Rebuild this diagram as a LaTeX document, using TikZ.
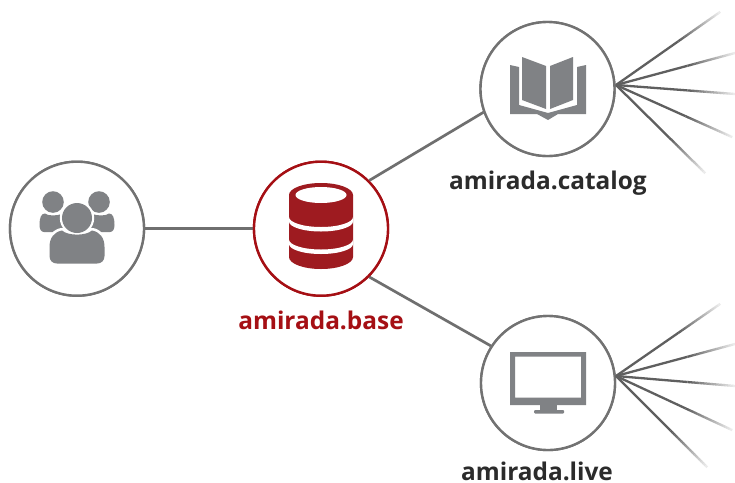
\documentclass[tikz,border=0pt]{standalone}
\usepackage{fontspec}
\setmainfont{Open Sans}
\usetikzlibrary{calc}
\definecolor{ringgray}{HTML}{727272}
\definecolor{icongray}{HTML}{808285}
\definecolor{linegray}{HTML}{6F6F6F}
\definecolor{fangray}{HTML}{5F5F5F}
\definecolor{dbred}{HTML}{9E1B20}
\definecolor{ringred}{HTML}{A50F14}
\definecolor{labeldark}{HTML}{2B2B2B}
\tikzset{
  hub/.style={circle,draw=ringgray,line width=2.4pt,fill=white,minimum size=134pt,inner sep=0pt},
  hubred/.style={hub,draw=ringred},
  link/.style={draw=linegray,line width=2.7pt},
  lbl/.style={font=\bfseries\fontsize{24.4}{28}\selectfont,text=labeldark,anchor=base,inner sep=0pt},
  icon/.style={fill=icongray,draw=none},
  dbpart/.style={fill=dbred,draw=none},
  gap/.style={fill=white,draw=none},
}
% fading spoke from a hub coordinate to a free end
\newcommand{\spoke}[2]{%
  \draw[draw=fangray,line width=2.3pt] (#1) -- ($(#1)!0.6!(#2)$);
  \foreach \k in {0,...,19}{%
    \pgfmathsetmacro{\ta}{0.6+0.02*\k}
    \pgfmathsetmacro{\tb}{0.6+0.02*(\k+1)+0.002}
    \pgfmathsetmacro{\pc}{100-4.6*\k}
    \draw[draw=fangray!\pc!white,line width=2.3pt] ($(#1)!\ta!(#2)$) -- ($(#1)!\tb!(#2)$);
  }}
\begin{document}
\begin{tikzpicture}[x=1pt,y=-1pt]
\useasboundingbox (0,0) rectangle (735,482);
\fill[white] (0,0) rectangle (735,482);

\node[hub] (users) at (77,228.7) {};
\node[hubred] (base) at (321,228.7) {};
\node[hub] (catalog) at (547.5,89) {};
\node[hub] (live) at (548,383) {};

\draw[link] (users) -- (base);
\draw[link] (base.45) -- (catalog.200);
\draw[link] (base.-45) -- (live.147);
\node[hubred,fill=white] at (base) {};
\node[hub] at (users) {};
\node[hub] at (catalog) {};
\node[hub] at (live) {};

% fan from catalog
\coordinate (ch) at (616,85);
\coordinate (c1) at (720,12);
\coordinate (c2) at (735,53);
\coordinate (c3) at (735,94);
\coordinate (c4) at (732,137);
\coordinate (c5) at (705,173);
\spoke{ch}{c1}\spoke{ch}{c2}\spoke{ch}{c3}\spoke{ch}{c4}\spoke{ch}{c5}

% fan from live
\coordinate (lh) at (616,376);
\coordinate (l1) at (720,304);
\coordinate (l2) at (735,344);
\coordinate (l3) at (735,386);
\coordinate (l4) at (732,430);
\coordinate (l5) at (707,467);
\spoke{lh}{l1}\spoke{lh}{l2}\spoke{lh}{l3}\spoke{lh}{l4}\spoke{lh}{l5}

% users icon
\fill[icon] (53,202) circle (10.8);
\fill[icon] (99,202) circle (10.8);
\fill[icon] (39.5,225) .. controls (39.5,218) and (41,213.5) .. (45,213.5)
   .. controls (48,216) and (56,216) .. (62,214) -- (64,232) -- (44,232)
   .. controls (41,232) and (39.5,229) .. (39.5,225) -- cycle;
\fill[icon] (114.5,225) .. controls (114.5,218) and (113,213.5) .. (109,213.5)
   .. controls (106,216) and (98,216) .. (92,214) -- (90,232) -- (110,232)
   .. controls (113,232) and (114.5,229) .. (114.5,225) -- cycle;
\fill[white] (77,218) circle (17.2);
\fill[white] (49,263) -- (47,246) .. controls (47,236) and (54,229) .. (61,228) -- (93,228)
   .. controls (100,229) and (107,236) .. (106,246) -- (105,263) -- cycle;
\fill[icon] (77,218) circle (15);
\fill[icon] (49.5,256) -- (49.5,247) .. controls (49.5,238) and (54,232) .. (62,230.5)
   .. controls (68,236) and (86,236) .. (92,230.5)
   .. controls (100,232) and (104.5,238) .. (104.5,247) -- (104.5,256)
   .. controls (104.5,261) and (101,263.5) .. (97,263.5) -- (57,263.5)
   .. controls (53,263.5) and (49.5,261) .. (49.5,256) -- cycle;

% database icon
\fill[dbpart] (289,195) -- (353,195) -- (353,257) arc[start angle=0,end angle=180,x radius=32,y radius=12] -- cycle;
\fill[dbpart] (321,195) ellipse[x radius=32,y radius=12];
\fill[gap] (321,195) ellipse[x radius=25.5,y radius=8];
\fill[gap] (289,217) arc[start angle=180,end angle=0,x radius=32,y radius=10]
   -- (353,221.5) arc[start angle=0,end angle=180,x radius=32,y radius=10] -- cycle;
\fill[gap] (289,239.5) arc[start angle=180,end angle=0,x radius=32,y radius=10]
   -- (353,244) arc[start angle=0,end angle=180,x radius=32,y radius=10] -- cycle;

% book icon
\fill[icon] (522,57) -- (546,66) -- (546,109) -- (522,100) -- cycle;
\fill[icon] (573,57) -- (550,66) -- (550,109) -- (573,100) -- cycle;
\fill[icon] (510,65) -- (519,67) -- (519,105) -- (548,113) -- (577,105) -- (577,67)
   -- (586,65) -- (586,114) -- (558,114) -- (548,120) -- (537,114) -- (510,114) -- cycle;

% monitor icon
\fill[icon,even odd rule] (510,352) rectangle (586,405) (515,356.5) rectangle (581,397.5);
\fill[icon] (540,405) rectangle (557,410);
\fill[icon,rounded corners=1pt] (534,410) rectangle (564,413.5);

% labels
\node[lbl] (lcatalog) at (548,189) {amirada.catalog};
\node[lbl,text=ringred] (lbase) at (321,329) {amirada.base};
\node[lbl] (llive) at (537,480) {amirada.live};
\end{tikzpicture}
\end{document}
